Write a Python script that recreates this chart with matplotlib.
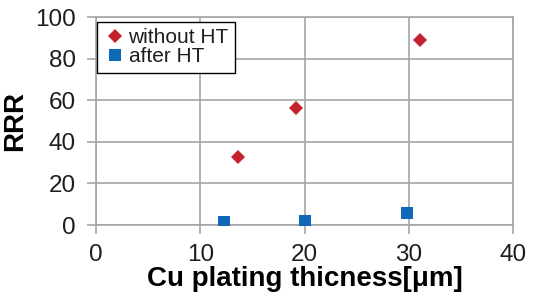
import matplotlib

matplotlib.use("Agg")
import matplotlib.pyplot as plt

plt.rcParams["font.family"] = ["Liberation Sans", "DejaVu Sans"]

# RRR vs Cu plating thickness
without_ht_x = [13.6, 19.2, 31.1]
without_ht_y = [32.8, 56.1, 88.9]
after_ht_x = [12.3, 20.0, 29.8]
after_ht_y = [1.3, 1.9, 5.6]

x_ticks = [0, 10, 20, 30, 40]
y_ticks = [0, 20, 40, 60, 80, 100]

GRID = "#a6a6a6"
TEXT = "#1e1e1e"

fig = plt.figure(figsize=(5.35, 2.96), dpi=100)
ax = fig.add_axes([96 / 535, 1 - 225 / 296, 417 / 535, 208 / 296])

ax.plot(without_ht_x, without_ht_y, linestyle="none", marker="D", markersize=6.8,
        color="#c3212b", markeredgewidth=0, label="without HT", zorder=3)
ax.plot(after_ht_x, after_ht_y, linestyle="none", marker="s", markersize=9,
        color="#0f67b8", markeredgewidth=0, label="after HT", zorder=3)

ax.set_xlim(0, 40)
ax.set_ylim(0, 100)
ax.set_xticks(x_ticks)
ax.set_yticks(y_ticks)
ax.grid(True, color=GRID, linewidth=1.2)
ax.set_axisbelow(True)
for sp in ax.spines.values():
    sp.set_color(GRID)
    sp.set_linewidth(1.2)
ax.tick_params(axis="both", length=6.5, width=1.2, color=GRID, labelsize=17.5,
               labelcolor=TEXT)
ax.tick_params(axis="y", pad=8)
ax.tick_params(axis="x", pad=7)

ax.set_xlabel("Cu plating thicness[μm]", fontsize=20, fontweight="bold",
              color="black", labelpad=0)
ax.set_ylabel("RRR", fontsize=20, fontweight="bold", color="black", labelpad=5)

leg = ax.legend(loc="upper left", bbox_to_anchor=(0.003, 0.975), borderaxespad=0,
                fancybox=False, framealpha=1, edgecolor="black", fontsize=15,
                handlelength=1.1, handletextpad=0.1, borderpad=0.3,
                labelspacing=0.0)
leg.get_frame().set_linewidth(1.0)
for t in leg.get_texts():
    t.set_color(TEXT)

fig.savefig("out.png", dpi=100)
plt.close(fig)
